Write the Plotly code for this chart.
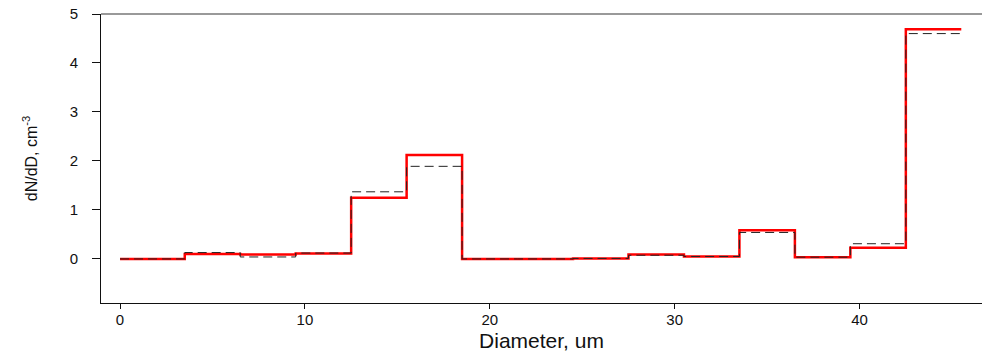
import plotly.graph_objects as go

# Bin start positions (step plot, horizontal-then-vertical)
diameter = [0, 3.5, 6.5, 9.5, 12.5, 15.5, 18.5, 21.5, 24.5, 27.5, 30.5, 33.5, 36.5, 39.5, 42.5, 45.5]
# Red (thick) series
dndd_red = [0.0, 0.10, 0.09, 0.11, 1.25, 2.12, 0.0, 0.0, 0.01, 0.09, 0.05, 0.585, 0.035, 0.23, 4.69, 4.69]
# Black dashed series
dndd_dash = [0.0, 0.13, 0.04, 0.12, 1.37, 1.89, 0.0, 0.0, 0.01, 0.075, 0.05, 0.54, 0.035, 0.31, 4.60, 4.60]

x_ticks = [0, 10, 20, 30, 40]
y_ticks = [0, 1, 2, 3, 4, 5]

fig = go.Figure()
fig.add_trace(go.Scatter(x=diameter, y=dndd_red, mode="lines", line_shape="hv",
                         line=dict(color="#ff0000", width=2.5), showlegend=False))
fig.add_trace(go.Scatter(x=diameter, y=dndd_dash, mode="lines", line_shape="hv",
                         line=dict(color="#222222", width=1, dash="9px,5px"), showlegend=False))

font_family = "Liberation Sans, Arial, sans-serif"
fig.update_layout(
    width=982, height=354,
    margin=dict(l=101, r=0, t=14, b=51),
    plot_bgcolor="white", paper_bgcolor="white",
    font=dict(family=font_family, color="#111111"),
    xaxis=dict(range=[-1.03, 46.62], tickvals=x_ticks, ticks="outside", ticklen=5,
               tickcolor="#111", showgrid=False, zeroline=False, showline=True,
               linecolor="#111", linewidth=1, tickfont=dict(size=15),
               ticklabelstandoff=-2, automargin=False,
               title=dict(text="Diameter, um", font=dict(size=21), standoff=6)),
    yaxis=dict(range=[-0.9, 5.0], tickvals=y_ticks, ticks="outside", ticklen=8,
               tickcolor="#111", showgrid=False, zeroline=False, showline=True,
               linecolor="#111", linewidth=1, tickfont=dict(size=15),
               ticklabelstandoff=11, automargin=False, ticklabeloverflow="allow",
               title=dict(text="dN/dD, cm<sup>-3</sup>", font=dict(size=16), standoff=28)),
    shapes=[dict(type="line", xref="paper", yref="paper", x0=0, x1=1, y0=1, y1=1,
                 line=dict(color="#777777", width=1.5))],
)

# Remove the browser's default 8px body margin so the figure fills the window exactly
fig.write_html("out.html", config={"displayModeBar": False},
               post_script="document.body.style.margin='0px';")
